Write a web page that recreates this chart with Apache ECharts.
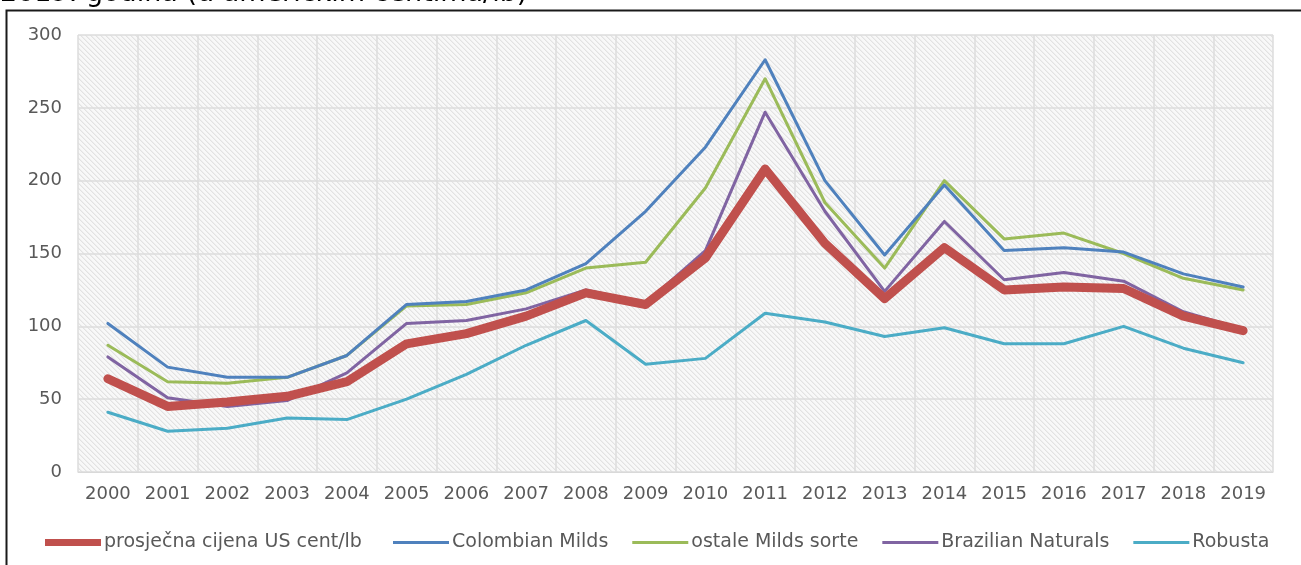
<!DOCTYPE html>
<html>
<head>
<meta charset="utf-8">
<script src="https://cdn.jsdelivr.net/npm/echarts@6/dist/echarts.min.js"></script>
<style>
html,body{margin:0;padding:0;background:#fff;}
#c{width:1301px;height:565px;}
</style>
</head>
<body>
<div id="c"></div>
<script>
const years = ['2000','2001','2002','2003','2004','2005','2006','2007','2008','2009','2010','2011','2012','2013','2014','2015','2016','2017','2018','2019'];
const prosjecna = [64, 45, 48, 52, 62, 88, 95, 107, 123, 115, 147, 208, 157, 119, 154, 125, 127, 126, 107, 97];
const colombian = [102, 72, 65, 65, 80, 115, 117, 125, 143, 179, 223, 283, 200, 149, 197, 152, 154, 151, 136, 127];
const ostale = [87, 62, 61, 65, 80, 114, 115, 123, 140, 144, 195, 270, 185, 140, 200, 160, 164, 150, 133, 125];
const brazilian = [79, 51, 45, 49, 68, 102, 104, 112, 125, 116, 152, 247, 179, 124, 172, 132, 137, 131, 110, 98];
const robusta = [41, 28, 30, 37, 36, 50, 67, 87, 104, 74, 78, 109, 103, 93, 99, 88, 88, 100, 85, 75];
const yTicks = [0, 50, 100, 150, 200, 250, 300];
const names = ['prosječna cijena US cent/lb', 'Colombian Milds', 'ostale Milds sorte', 'Brazilian Naturals', 'Robusta'];

function hatch() {
  const n = 5;
  const cv = document.createElement('canvas');
  cv.width = n * 4; cv.height = n * 4;
  const ctx = cv.getContext('2d');
  const img = ctx.createImageData(cv.width, cv.height);
  for (let y = 0; y < cv.height; y++) {
    for (let x = 0; x < cv.width; x++) {
      const i = (y * cv.width + x) * 4;
      const d = ((x - y) % n + n) % n;
      const v = d === 0 ? 226 : (d === 1 ? 238 : 248);
      img.data[i] = v; img.data[i+1] = v; img.data[i+2] = v; img.data[i+3] = 255;
    }
  }
  ctx.putImageData(img, 0, 0);
  return cv;
}

const chart = echarts.init(document.getElementById('c'), null, {renderer: 'canvas'});
const textColor = '#595959';
const font = '"DejaVu Sans", Verdana, sans-serif';
function mk(name, data, color, width) {
  return {
    name: name, type: 'line', data: data, symbol: 'none', showSymbol: false,
    lineStyle: {color: color, width: width, cap: 'round', join: 'round'},
    itemStyle: {color: color},
    emphasis: {disabled: true}, animation: false
  };
}
const legendText = {color: textColor, fontSize: 19, fontFamily: font, padding: [0, 0, 0, -2]};
chart.setOption({
  animation: false,
  backgroundColor: '#ffffff',
  graphic: [
    {type: 'text', left: 0, top: -20, style: {text: '2019. godina (u američkim centima/lb)', font: '27px "DejaVu Sans"', fill: '#000'}},
    {type: 'rect', left: 4, top: 8, shape: {width: 1320, height: 600}, style: {fill: 'none', stroke: '#1a1a1a', lineWidth: 2}, z: 100}
  ],
  grid: {left: 78, right: 28, top: 35, bottom: 93, show: true, borderWidth: 0,
         backgroundColor: {image: hatch(), repeat: 'repeat'}},
  legend: [
    {
      top: 528, left: 40, itemWidth: 56, itemHeight: 7, itemGap: 4,
      icon: 'rect', textStyle: legendText, data: [names[0]]
    },
    {
      top: 528, left: 388, itemGap: 24, itemWidth: 56, itemHeight: 3,
      icon: 'rect', textStyle: legendText, data: names.slice(1)
    }
  ],
  xAxis: {
    type: 'category', data: years, boundaryGap: true,
    axisLine: {show: true, lineStyle: {color: '#d9d9d9'}},
    axisTick: {show: false},
    axisLabel: {color: textColor, fontSize: 18, fontFamily: font, margin: 13, interval: 0},
    splitLine: {show: true, interval: 0, lineStyle: {color: '#dcdcdc', width: 1.5}}
  },
  yAxis: {
    type: 'value', min: 0, max: 300, interval: 50,
    axisLine: {show: false}, axisTick: {show: false},
    axisLabel: {color: textColor, fontSize: 18, fontFamily: font, margin: 16,
      formatter: function(v){ return yTicks.indexOf(v) >= 0 ? String(v) : ''; }},
    splitLine: {show: true, lineStyle: {color: '#dcdcdc', width: 1.5}}
  },
  series: [
    mk(names[4], robusta, '#4bacc6', 3),
    mk(names[3], brazilian, '#8064a2', 3),
    mk(names[2], ostale, '#9bbb59', 3),
    mk(names[1], colombian, '#4f81bd', 3),
    mk(names[0], prosjecna, '#c0504d', 9)
  ]
});
</script>
</body>
</html>
